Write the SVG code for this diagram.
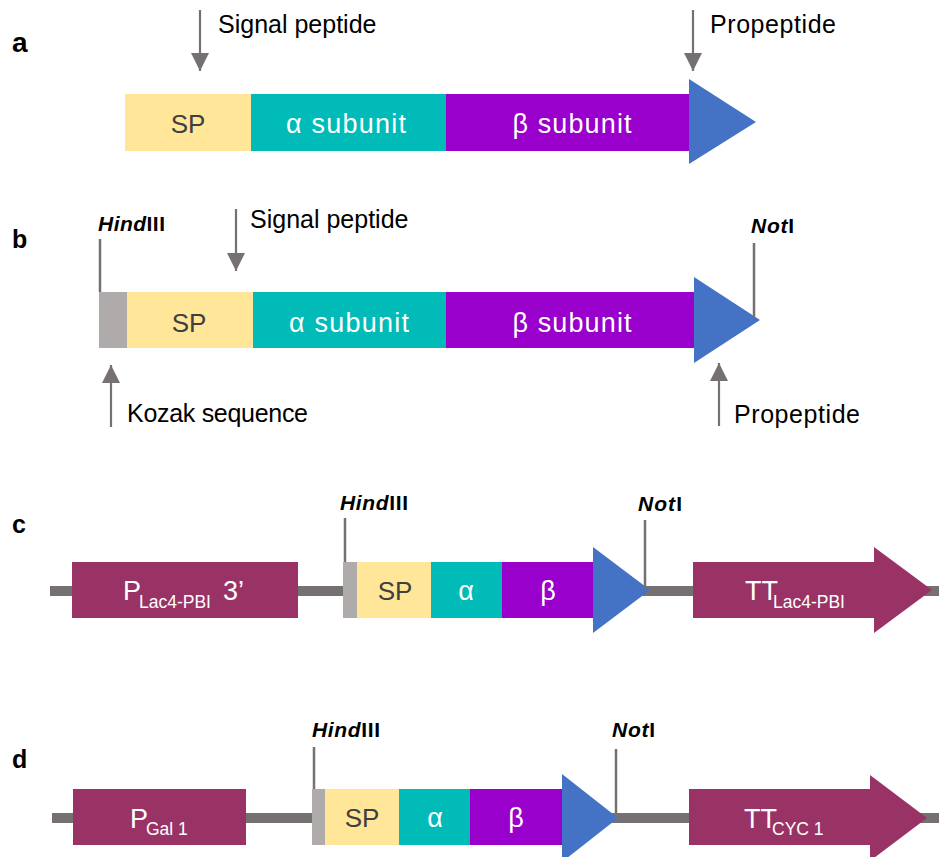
<svg xmlns="http://www.w3.org/2000/svg" width="939" height="857" viewBox="0 0 939 857">
<defs>
<style>
.lbl{font-family:"Liberation Sans",Arial,sans-serif;font-weight:bold;fill:#000}
.t{font-family:"Liberation Sans",Arial,sans-serif;font-size:25px;fill:#000}
.in{font-family:"Liberation Sans",Arial,sans-serif;font-size:27px;fill:#fff;text-anchor:middle}
.sp{font-family:"Liberation Sans",Arial,sans-serif;font-size:26px;fill:#404040;text-anchor:middle}
.site{font-family:"Liberation Sans",Arial,sans-serif;font-size:21px;font-weight:bold;fill:#000}
.pr{font-family:"Liberation Sans",Arial,sans-serif;font-size:27px;fill:#fff}
.sub{font-size:17.5px}
.kz{fill:#AFABAB}
.spc{fill:#FFE699}
.al{fill:#00BBB8}
.be{fill:#9900CC}
.tri{fill:#4472C4}
.prom{fill:#993366}
.bb{fill:#767171}
.arr{stroke:#767171;stroke-width:2.2;fill:none}
.sl{stroke:#767171;stroke-width:2.5;fill:none}
</style>
<marker id="ah" markerUnits="userSpaceOnUse" markerWidth="18" markerHeight="18" refX="18" refY="9" orient="auto" viewBox="0 0 18 18">
<path d="M0,0 L18,9 L0,18 Z" fill="#767171"/>
</marker>
</defs>

<!-- panel labels -->
<text class="lbl" x="12" y="52" font-size="28">a</text>
<text class="lbl" x="12" y="248" font-size="25">b</text>
<text class="lbl" x="12" y="533" font-size="25">c</text>
<text class="lbl" x="12" y="768" font-size="25">d</text>

<!-- backbones -->
<g id="backbones">
<rect class="bb" x="50" y="586" width="889" height="10"/>
<rect class="bb" x="52" y="813" width="887" height="10"/>
</g>

<!-- panel a -->
<g id="a-sp"><rect class="spc" x="125" y="94" width="126" height="57"/><text class="sp" x="188" y="133">SP</text></g>
<g id="a-alpha"><rect class="al" x="251" y="94" width="195" height="57"/><text class="in" x="346" y="133" textLength="120" lengthAdjust="spacing">α subunit</text></g>
<g id="a-beta"><rect class="be" x="446" y="94" width="243" height="57"/><text class="in" x="572" y="133" textLength="119" lengthAdjust="spacing">β subunit</text></g>
<g id="a-pro"><polygon class="tri" points="689,79 756,122 689,164"/></g>
<text class="t" x="218" y="33">Signal peptide</text>
<text class="t" x="710" y="33" textLength="126" lengthAdjust="spacing">Propeptide</text>

<!-- panel b -->
<g id="b-kozak"><rect class="kz" x="99" y="292" width="28" height="56"/></g>
<g id="b-sp"><rect class="spc" x="127" y="292" width="126" height="56"/><text class="sp" x="189" y="332">SP</text></g>
<g id="b-alpha"><rect class="al" x="253" y="292" width="193" height="56"/><text class="in" x="349" y="332" textLength="120" lengthAdjust="spacing">α subunit</text></g>
<g id="b-beta"><rect class="be" x="446" y="292" width="248" height="56"/><text class="in" x="572" y="332" textLength="119" lengthAdjust="spacing">β subunit</text></g>
<g id="b-pro"><polygon class="tri" points="694,277 760,320 694,363"/></g>
<text class="site" x="98" y="231" textLength="67" lengthAdjust="spacing"><tspan font-style="italic">Hind</tspan>III</text>
<text class="site" x="751" y="233" textLength="43" lengthAdjust="spacing"><tspan font-style="italic">Not</tspan>I</text>
<text class="t" x="250" y="228">Signal peptide</text>
<text class="t" x="127" y="422" textLength="181" lengthAdjust="spacing">Kozak sequence</text>
<text class="t" x="734" y="423" textLength="126" lengthAdjust="spacing">Propeptide</text>

<!-- panel c -->
<g id="c-promoter"><rect class="prom" x="72" y="562" width="226" height="56"/>
<text class="pr" x="123" y="600">P<tspan class="sub" x="139" y="608">Lac4-PBI</tspan><tspan x="223" y="600">3’</tspan></text></g>
<g id="c-kozak"><rect class="kz" x="343" y="562" width="14" height="56"/></g>
<g id="c-sp"><rect class="spc" x="357" y="562" width="74" height="56"/><text class="sp" x="395" y="600">SP</text></g>
<g id="c-alpha"><rect class="al" x="431" y="562" width="71" height="56"/><text class="in" x="466" y="600">α</text></g>
<g id="c-beta"><rect class="be" x="502" y="562" width="91" height="56"/><text class="in" x="548" y="600">β</text></g>
<g id="c-pro"><polygon class="tri" points="593,547 650,590 593,633"/></g>
<g id="c-terminator"><polygon class="prom" points="693,562 874,562 874,547 932,590 874,633 874,618 693,618"/>
<text class="pr" x="745" y="600">TT<tspan class="sub" x="773" y="608">Lac4-PBI</tspan></text></g>
<text class="site" x="340" y="510" textLength="68" lengthAdjust="spacing"><tspan font-style="italic">Hind</tspan>III</text>
<text class="site" x="638" y="511" textLength="44" lengthAdjust="spacing"><tspan font-style="italic">Not</tspan>I</text>

<!-- panel d -->
<g id="d-promoter"><rect class="prom" x="73" y="789" width="173" height="56"/>
<text class="pr" x="130" y="828">P<tspan class="sub" x="146" y="835">Gal 1</tspan></text></g>
<g id="d-kozak"><rect class="kz" x="312" y="789" width="13" height="56"/></g>
<g id="d-sp"><rect class="spc" x="325" y="789" width="74" height="56"/><text class="sp" x="362" y="827">SP</text></g>
<g id="d-alpha"><rect class="al" x="399" y="789" width="71" height="56"/><text class="in" x="435" y="827">α</text></g>
<g id="d-beta"><rect class="be" x="470" y="789" width="92" height="56"/><text class="in" x="516" y="827">β</text></g>
<g id="d-pro"><polygon class="tri" points="562,774 618,818 562,862"/></g>
<g id="d-terminator"><polygon class="prom" points="689,789 870,789 870,775 927,818 870,861 870,845 689,845"/>
<text class="pr" x="744" y="828">TT<tspan class="sub" x="772" y="835">CYC 1</tspan></text></g>
<text class="site" x="312" y="737" textLength="68" lengthAdjust="spacing"><tspan font-style="italic">Hind</tspan>III</text>
<text class="site" x="612" y="737" textLength="43" lengthAdjust="spacing"><tspan font-style="italic">Not</tspan>I</text>

<!-- connectors -->
<g id="connectors">
<line class="arr" x1="200" y1="10" x2="200" y2="71" marker-end="url(#ah)"/>
<line class="arr" x1="693" y1="10" x2="693" y2="71" marker-end="url(#ah)"/>
<line class="arr" x1="236" y1="209" x2="236" y2="271" marker-end="url(#ah)"/>
<line class="arr" x1="111" y1="427" x2="111" y2="365" marker-end="url(#ah)"/>
<line class="arr" x1="719" y1="426" x2="719" y2="363" marker-end="url(#ah)"/>
<line class="sl" x1="100" y1="239" x2="100" y2="292"/>
<line class="sl" x1="754" y1="243" x2="754" y2="317"/>
<line class="sl" x1="345" y1="518" x2="345" y2="562"/>
<line class="sl" x1="645" y1="520" x2="645" y2="590"/>
<line class="sl" x1="314" y1="747" x2="314" y2="789"/>
<line class="sl" x1="616" y1="749" x2="616" y2="818"/>
</g>
</svg>
